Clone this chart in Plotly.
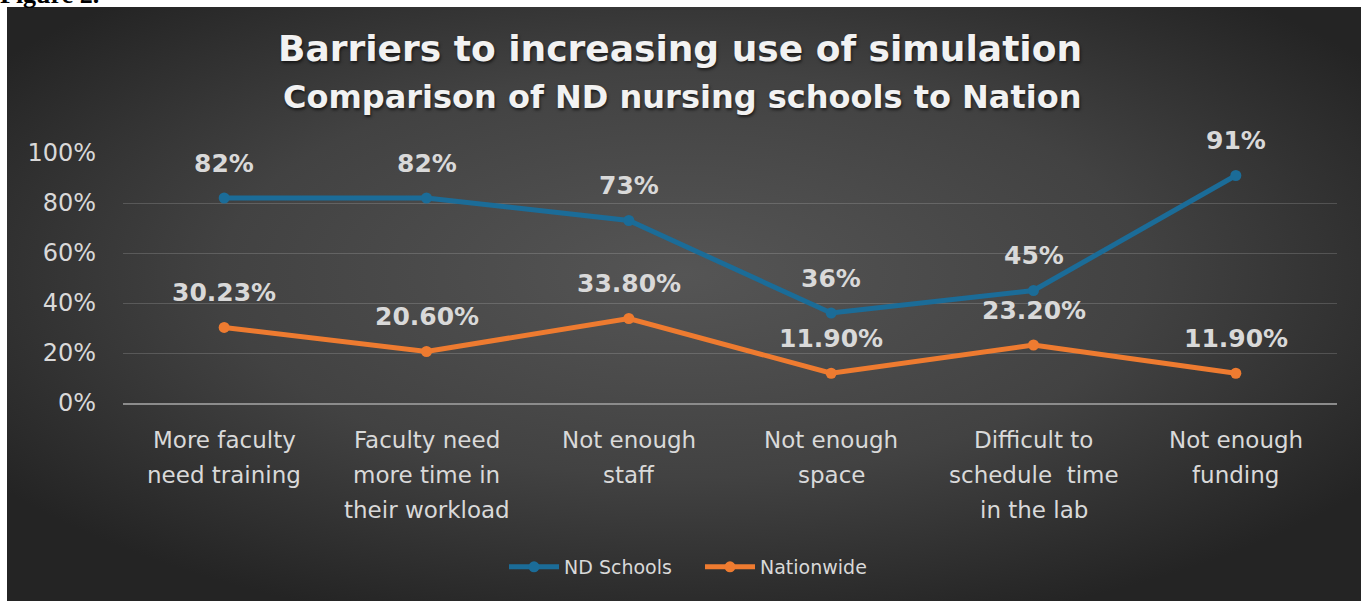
import base64
import plotly.graph_objects as go

# ---------------- data ----------------
categories = [
    "More faculty\nneed training",
    "Faculty need\nmore time in\ntheir workload",
    "Not enough\nstaff",
    "Not enough\nspace",
    "Difficult to\nschedule  time\nin the lab",
    "Not enough\nfunding",
]
nd_values = [0.82, 0.82, 0.73, 0.36, 0.45, 0.91]
nation_values = [0.3023, 0.2060, 0.3380, 0.1190, 0.2320, 0.1190]
series_names = ["ND Schools", "Nationwide"]
y_ticks = [0, 0.2, 0.4, 0.6, 0.8, 1.0]
title_line1 = "Barriers to increasing use of simulation"
title_line2 = "Comparison of ND nursing schools to Nation"
caption = "Figure 2."

# ---------------- layout geometry ----------------
W, H = 1361, 601
L, R, T, B = 123, 24, 153, 198
PW, PH = W - L - R, H - T - B


def px_x(x):
    return (x - L) / PW


def px_y(y):
    return (H - B - y) / PH


x_cats = [c.replace("\n", " ") for c in categories]

BLUE = "#1b6c98"
ORANGE = "#EE7B30"
TXT = "#d9d9d9"

# background gradient panel as svg image
svg = f"""<svg xmlns='http://www.w3.org/2000/svg' width='1354' height='594' viewBox='0 0 1354 594' preserveAspectRatio='none'>
<defs><radialGradient id='g' cx='0.5' cy='0.45' r='0.62' gradientUnits='objectBoundingBox'>
<stop offset='0' stop-color='#555555'/>
<stop offset='0.55' stop-color='#424242'/>
<stop offset='1' stop-color='#242424'/>
</radialGradient></defs>
<rect x='0' y='0' width='1354' height='594' fill='url(#g)'/>
</svg>"""
svg_uri = "data:image/svg+xml;base64," + base64.b64encode(svg.encode()).decode()

fig = go.Figure()
fig.add_trace(go.Scatter(
    x=x_cats, y=nd_values, name=series_names[0], mode="lines+markers",
    line=dict(color=BLUE, width=5), marker=dict(color=BLUE, size=11),
    cliponaxis=False,
))
fig.add_trace(go.Scatter(
    x=x_cats, y=nation_values, name=series_names[1], mode="lines+markers",
    line=dict(color=ORANGE, width=5), marker=dict(color=ORANGE, size=11),
    cliponaxis=False,
))

annotations = []
# data labels
for vals, fmt in ((nd_values, "{:.0%}"), (nation_values, "{:.2%}")):
    for xc, v in zip(x_cats, vals):
        annotations.append(dict(
            x=xc, y=v, xref="x", yref="y", text=fmt.format(v), showarrow=False,
            yshift=35, font=dict(family="DejaVu Sans", size=25, color=TXT, weight="bold"),
        ))
# category labels (one annotation per line for Excel-like line spacing)
for i, c in enumerate(categories):
    for j, line in enumerate(c.split("\n")):
        annotations.append(dict(
            x=x_cats[i], y=px_y(440 + 35 * j), xref="x", yref="paper", text=line,
            showarrow=False, yanchor="middle",
            font=dict(family="DejaVu Sans", size=23, color=TXT),
        ))
# titles
annotations.append(dict(
    x=px_x(680), y=px_y(48), xref="paper", yref="paper", text=title_line1, showarrow=False,
    yanchor="middle",
    font=dict(family="DejaVu Sans", size=36, color="#f2f2f2", weight="bold",
              shadow="1px 2px 3px rgba(0,0,0,0.6)"),
))
annotations.append(dict(
    x=px_x(682), y=px_y(97), xref="paper", yref="paper", text=title_line2, showarrow=False,
    yanchor="middle",
    font=dict(family="DejaVu Sans", size=32, color="#f2f2f2", weight="bold",
              shadow="1px 2px 3px rgba(0,0,0,0.6)"),
))
# caption above the panel (cut by the panel's top edge, as in the source)
annotations.append(dict(
    x=px_x(-2), y=px_y(11), xref="paper", yref="paper", text=caption, showarrow=False,
    xanchor="left", yanchor="bottom",
    font=dict(family="Liberation Serif", size=26, color="black", weight="bold"),
))

fig.update_layout(
    width=W, height=H, autosize=False,
    margin=dict(l=L, r=R, t=T, b=B, pad=0),
    paper_bgcolor="white", plot_bgcolor="rgba(0,0,0,0)",
    showlegend=True,
    legend=dict(
        orientation="h", x=px_x(700), xanchor="center", y=px_y(567), yanchor="middle",
        font=dict(family="DejaVu Sans", size=19, color=TXT), bgcolor="rgba(0,0,0,0)",
        itemwidth=50, entrywidth=131, entrywidthmode="pixels",
    ),
    images=[dict(
        source=svg_uri, xref="paper", yref="paper", x=px_x(7), y=px_y(7),
        sizex=(W - 7) / PW, sizey=(H - 7) / PH, xanchor="left", yanchor="top",
        sizing="stretch", layer="below",
    )],
    annotations=annotations,
)
fig.update_xaxes(
    type="category", range=[-0.5, len(categories) - 0.5], showticklabels=False,
    showgrid=False, zeroline=False, showline=True, linecolor="#8c8c8c", linewidth=1.5,
)
fig.update_yaxes(
    range=[0, 1], tickvals=y_ticks, tickformat=".0%", showgrid=True,
    gridcolor="rgba(255,255,255,0.16)", gridwidth=1, zeroline=False, showline=False,
    tickfont=dict(family="DejaVu Sans", size=24, color=TXT), ticks="",
    ticklabelstandoff=26,
)

fig.write_html(
    "out.html",
    config={"displayModeBar": False},
    post_script="document.body.style.margin='0';document.body.style.overflow='hidden';",
)
